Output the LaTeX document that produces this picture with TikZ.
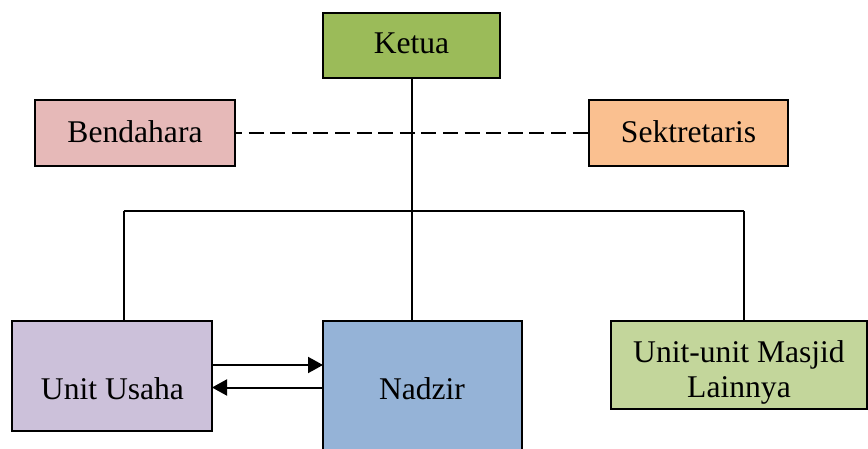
\documentclass[tikz,border=0pt]{standalone}
\usepackage{fontspec}
\setmainfont{Liberation Serif}
\usetikzlibrary{arrows.meta}
\definecolor{cketua}{HTML}{9BBB59}
\definecolor{cbend}{HTML}{E6B9B8}
\definecolor{csek}{HTML}{FAC090}
\definecolor{cusaha}{HTML}{CCC1DA}
\definecolor{cnadzir}{HTML}{95B3D7}
\definecolor{cunit}{HTML}{C3D69B}
\tikzset{
  box/.style={draw=black, line width=1pt, rectangle, inner sep=0pt, outer sep=0pt},
  txt/.style={anchor=base, inner sep=0pt, font=\fontsize{15.8pt}{17.5pt}\selectfont},
  conn/.style={line width=1pt, draw=black},
  arr/.style={conn, -{Triangle[length=7.5pt, width=8pt]}},
  dashconn/.style={conn, dash pattern=on 7.5pt off 3.3pt, dash phase=4pt}
}
\begin{document}
\begin{tikzpicture}[x=0.5pt, y=-0.5pt]
\useasboundingbox (0,0) rectangle (868,449);
% boxes
\node[box, fill=cketua, minimum width=88.5pt, minimum height=32.5pt] (ketua) at (411.5,45.5) {};
\node[box, fill=cbend, minimum width=100pt, minimum height=33pt] (bend) at (135,133.5) {};
\node[box, fill=csek, minimum width=99.5pt, minimum height=33pt] (sek) at (688.5,133.5) {};
\node[box, fill=cusaha, minimum width=100pt, minimum height=55pt] (usaha) at (112,376) {};
\node[box, fill=cnadzir, minimum width=99.5pt, minimum height=69.5pt] (nadzir) at (422.5,390.5) {};
\node[box, fill=cunit, minimum width=128pt, minimum height=44pt] (unit) at (739,365) {};
% texts
\node[txt] (tketua) at (411.5,53.3) {Ketua};
\node[txt] (tbend) at (135,142.3) {Bendahara};
\node[txt] (tsek) at (688.5,142.5) {Sektretaris};
\node[txt] (tusaha) at (112.5,399) {Unit Usaha};
\node[txt] (tnadzir) at (422,399) {Nadzir};
\node[txt] (tunita) at (739,362) {Unit-unit Masjid};
\node[txt] (tunitb) at (739,397) {Lainnya};
% connectors
\coordinate (hl) at (123.5,211);
\coordinate (hr) at (744,211);
\coordinate (ay1) at (0,365);
\coordinate (ay2) at (0,387.5);
\draw[conn] (ketua.south) -- (ketua.south |- nadzir.north);
\draw[conn] (hl) -- (hr);
\draw[conn] (hl) -- (hl |- usaha.north);
\draw[conn] (hr) -- (hr |- unit.north);
\draw[dashconn] (bend.east) -- (sek.west);
\draw[arr] (usaha.east |- ay1) -- (nadzir.west |- ay1);
\draw[arr] (nadzir.west |- ay2) -- (usaha.east |- ay2);
\end{tikzpicture}
\end{document}
